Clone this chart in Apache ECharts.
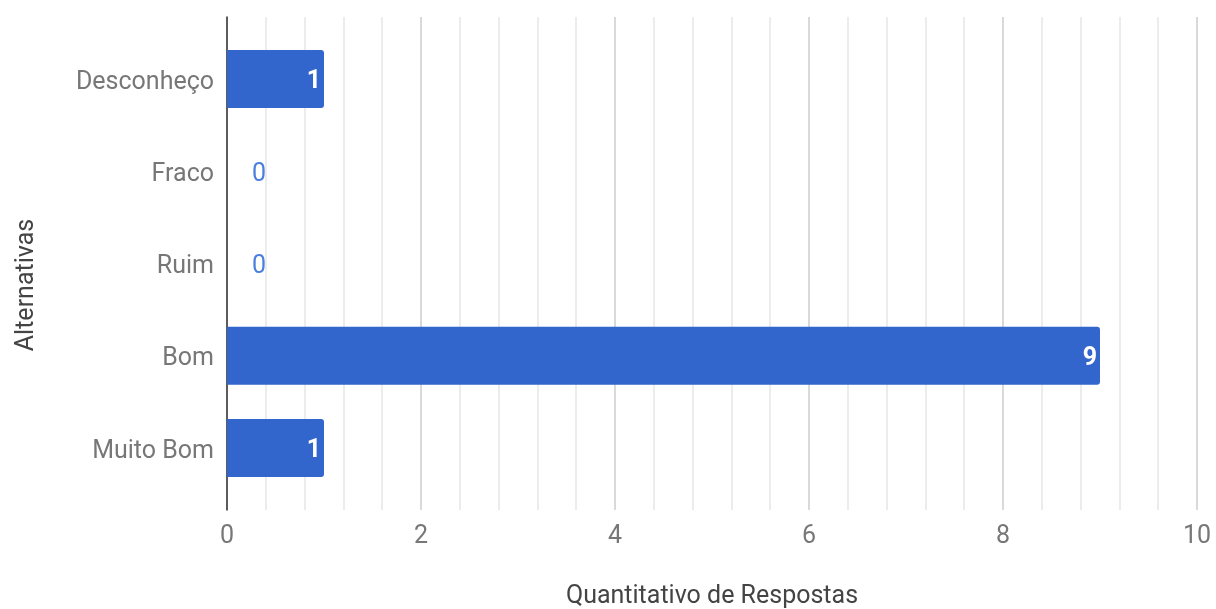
<!DOCTYPE html>
<html>
<head>
<meta charset="utf-8">
<script src="https://cdn.jsdelivr.net/npm/echarts@6/dist/echarts.min.js"></script>
<style>
  html, body { margin: 0; padding: 0; background: #fff; }
  #chart { width: 1216px; height: 609px; }
</style>
</head>
<body>
<div id="chart"></div>
<script>
// dados do gráfico
const categorias = ['Desconheço', 'Fraco', 'Ruim', 'Bom', 'Muito Bom'];
const respostas = [1, 0, 0, 9, 1];
const xMin = 0;
const xMax = 10;

const corBarra = '#3366cc';

const chart = echarts.init(document.getElementById('chart'));

const dados = respostas.map(v => ({
  value: v,
  label: v === 0
    ? { position: 'insideLeft', offset: [22, 3], color: '#4a7fde', fontWeight: 'normal' }
    : {}
}));

const option = {
  textStyle: { fontFamily: 'Roboto' },
  grid: [
    // grade de fundo (linhas verticais)
    { left: 227, right: 19, top: 17, bottom: 99, outerBoundsMode: 'none' },
    // barras
    { left: 227, right: 19, top: 33, bottom: 115, outerBoundsMode: 'none' }
  ],
  xAxis: [
    {
      gridIndex: 0,
      type: 'value',
      min: xMin,
      max: xMax,
      interval: 2,
      name: 'Quantitativo de Respostas',
      nameLocation: 'middle',
      nameGap: 74,
      nameTextStyle: { fontSize: 25, color: '#444', fontFamily: 'Roboto' },
      axisLine: { show: false },
      axisTick: { show: false },
      axisLabel: { fontSize: 25, color: '#777', margin: 14, fontFamily: 'Roboto' },
      splitLine: { show: true, lineStyle: { color: '#cccccc', width: 1.5 } },
      minorTick: { show: false, splitNumber: 5 },
      minorSplitLine: { show: true, lineStyle: { color: '#e6e6e6', width: 1.5 } }
    },
    {
      gridIndex: 1,
      type: 'value',
      min: xMin,
      max: xMax,
      show: false
    }
  ],
  yAxis: [
    {
      gridIndex: 0,
      type: 'value',
      axisLine: { show: true, onZero: false, lineStyle: { color: '#333', width: 1.5 } },
      axisTick: { show: false },
      axisLabel: { show: false },
      splitLine: { show: false }
    },
    {
      gridIndex: 1,
      type: 'category',
      inverse: true,
      data: categorias,
      axisLine: { show: false },
      axisTick: { show: false },
      axisLabel: {
        fontSize: 25, color: '#777', margin: 13, fontFamily: 'Roboto',
        lineHeight: 25, verticalAlign: 'top', padding: [-9, 0, 0, 0]
      }
    }
  ],
  graphic: [{
    type: 'text',
    x: 27,
    y: 285,
    rotation: Math.PI / 2,
    style: {
      text: 'Alternativas',
      fill: '#444',
      font: '25px Roboto',
      align: 'center',
      verticalAlign: 'middle'
    }
  }],
  series: [{
    type: 'bar',
    xAxisIndex: 1,
    yAxisIndex: 1,
    data: dados,
    barWidth: 58,
    itemStyle: { color: corBarra, borderRadius: [0, 3, 3, 0] },
    label: {
      show: true,
      position: 'insideRight',
      distance: 3,
      offset: [0, 3],
      color: '#fff',
      fontWeight: 'bold',
      fontSize: 25,
      fontFamily: 'Roboto'
    }
  }]
};

chart.setOption(option);
</script>
</body>
</html>
